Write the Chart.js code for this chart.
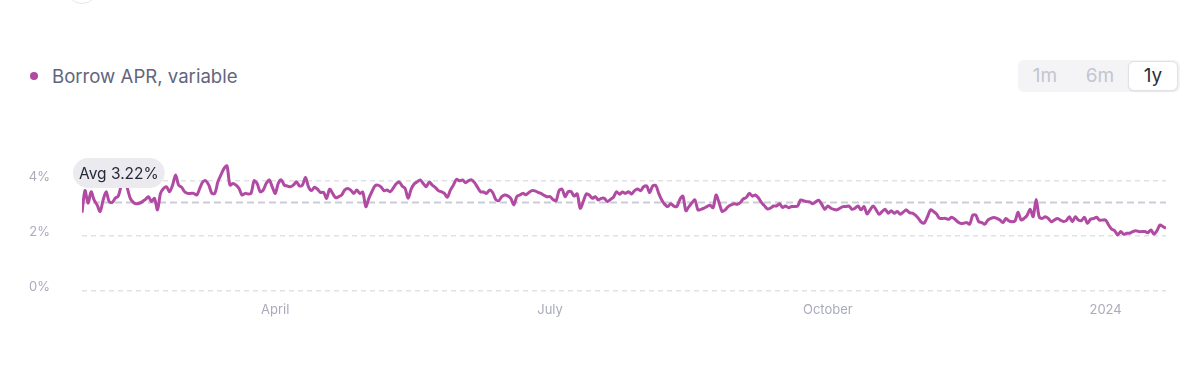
<!DOCTYPE html>
<html>
<head>
<meta charset="utf-8">
<script src="https://cdn.jsdelivr.net/npm/chart.js@4/dist/chart.umd.min.js"></script>
<style>
    html, body { margin: 0; padding: 0; background: #fff; }
    body { width: 1200px; height: 367px; position: relative; overflow: hidden; font-family: 'Inter', 'Noto Sans', sans-serif; }
    #chart { position: absolute; left: 0; top: 0; }
    .topShape { position: absolute; left: 66px; top: -28px; width: 30px; height: 30px; border-radius: 50%; border: 1px solid #e6e6ec; }
    .legend { position: absolute; left: 30px; top: 64px; display: flex; align-items: center; height: 24px; }
    .legend .dot { width: 8px; height: 8px; border-radius: 50%; background: #b14aa2; margin-right: 14px; }
    .legend .label { font-size: 18.6px; color: #62667d; }
    .range { position: absolute; left: 1018px; top: 60px; width: 162px; height: 32px; background: #f4f4f7; border-radius: 6px; }
    .range span { position: absolute; top: 0; height: 32px; line-height: 32px; font-size: 19px; color: #c3c5cf; text-align: center; }
    .range .active { top: 1px; height: 28px; line-height: 28px; background: #fff; border: 1px solid #e0e0e7; border-radius: 6px; box-shadow: 0 1px 2px rgba(0,0,0,0.06); color: #2b2d3c; }
</style>
</head>
<body>
<div class="topShape"></div>
<div class="legend"><div class="dot"></div><div class="label">Borrow APR, variable</div></div>
<div class="range">
    <span style="left: 11px; width: 32px;">1m</span>
    <span style="left: 66px; width: 32px;">6m</span>
    <span class="active" style="left: 110px; width: 48px;">1y</span>
</div>
<canvas id="chart" width="1200" height="367"></canvas>
<script>
/* ── Data ───────────────────────────────────────────────────────────────── */

// One value per day, starting at startDate
const startDate = '2023-01-27';

const borrowApr = [
    2.85, 3.65, 3.19, 3.61, 3.31, 3.13, 2.89, 3.31, 3.61, 3.25,
    3.22, 3.37, 3.45, 3.85, 4.20, 3.75, 3.37, 3.22, 3.17, 3.19,
    3.25, 3.33, 3.43, 3.25, 3.37, 2.95, 3.55, 3.73, 3.79, 3.61,
    3.85, 4.22, 3.85, 3.77, 3.61, 3.55, 3.55, 3.55, 3.49, 3.73,
    3.97, 4.01, 3.85, 3.55, 3.55, 3.97, 4.22, 4.45, 4.55, 3.85,
    3.91, 3.85, 3.73, 3.49, 3.55, 3.53, 3.55, 4.01, 3.91, 3.61,
    3.67, 3.91, 4.04, 3.79, 3.55, 3.91, 4.04, 3.85, 3.82, 3.79,
    3.85, 3.97,
    3.82, 3.85, 4.13, 3.79, 3.65, 3.77, 3.70, 3.58, 3.59, 3.37,
    3.70, 3.55, 3.39, 3.43, 3.49, 3.67, 3.73, 3.67, 3.55, 3.67,
    3.55, 3.59, 3.07, 3.37, 3.61, 3.82, 3.85, 3.79, 3.65, 3.67,
    3.61, 3.73, 3.89, 3.97, 3.82, 3.73, 3.37, 3.70, 3.89, 3.97,
    4.04, 3.91, 3.79, 3.96, 3.85, 3.77, 3.65, 3.61, 3.55, 3.41,
    3.67, 3.85, 4.06, 4.01, 4.04, 3.94, 4.01, 4.04, 3.94, 3.77,
    3.61, 3.60, 3.55, 3.67, 3.58, 3.33, 3.28, 3.43, 3.49, 3.46,
    3.37, 3.13,
    3.43, 3.49, 3.55, 3.50, 3.58, 3.65, 3.64, 3.59, 3.55, 3.48,
    3.43, 3.43, 3.33, 3.28, 3.65, 3.70, 3.43, 3.61, 3.61, 3.45,
    3.53, 3.01, 3.25, 3.53, 3.49, 3.37, 3.43, 3.31, 3.37, 3.37,
    3.25, 3.33, 3.41, 3.61, 3.52, 3.60, 3.55, 3.61, 3.53, 3.65,
    3.71, 3.65, 3.79, 3.82, 3.58, 3.82, 3.84, 3.55, 3.31, 3.15,
    3.07, 3.17, 3.09, 3.07, 3.33, 3.45, 2.92, 3.07, 3.21, 3.31,
    2.95, 2.97, 3.01, 3.07, 3.12, 3.03, 3.49, 3.21, 2.89, 2.95,
    3.07, 3.13,
    3.17, 3.15, 3.21, 3.35, 3.40, 3.55, 3.45, 3.49, 3.39, 3.22,
    3.10, 2.99, 3.01, 3.09, 3.09, 3.17, 3.04, 3.09, 3.03, 3.07,
    3.07, 3.09, 3.31, 3.28, 3.25, 3.24, 3.17, 3.24, 3.30, 3.15,
    2.97, 3.09, 3.01, 2.97, 2.95, 3.01, 3.07, 3.07, 3.09, 2.97,
    3.01, 3.09, 2.95, 3.07, 2.80, 2.95, 3.09, 2.95, 2.79, 2.89,
    2.97, 2.83, 2.92, 2.83, 2.89, 2.79, 2.87, 2.95, 2.85, 2.83,
    2.76, 2.64, 2.50, 2.48, 2.70, 2.95, 2.89, 2.80, 2.64, 2.64,
    2.64,
    2.61, 2.68, 2.62, 2.52, 2.46, 2.46, 2.49, 2.43, 2.76, 2.76,
    2.52, 2.49, 2.43, 2.58, 2.64, 2.67, 2.64, 2.58, 2.49, 2.64,
    2.55, 2.52, 2.55, 2.86, 2.58, 2.64, 2.75, 2.97, 2.70, 3.33,
    2.70, 2.64, 2.70, 2.64, 2.52, 2.58, 2.64, 2.58, 2.53, 2.56,
    2.70, 2.52, 2.70, 2.58, 2.56, 2.68, 2.46, 2.61, 2.63, 2.68,
    2.58, 2.58, 2.58, 2.40, 2.25, 2.19, 2.04, 2.16, 2.06, 2.10,
    2.10, 2.16, 2.19, 2.16, 2.16, 2.16, 2.12, 2.22, 2.07, 2.19,
    2.40, 2.34, 2.28,
];

const avgApr = 3.22;

const xTickDates  = ['2023-04-01', '2023-07-01', '2023-10-01', '2024-01-01'];
const xTickLabels = ['April', 'July', 'October', '2024'];
const yTickValues = [0, 2, 4];

/* ── Helpers ────────────────────────────────────────────────────────────── */

const COLORS = {
    line:      '#b14aa2',
    grid:      '#e0e1e7',
    avgLine:   '#cbccd7',
    tickText:  '#a9abba',
    pillBg:    '#ebebef',
    pillText:  '#262838',
};

const FONT = "Inter, 'Noto Sans', sans-serif";
const DAY_MS = 24 * 3600 * 1000;
const dayOffset = d => Math.round((Date.parse(d) - Date.parse(startDate)) / DAY_MS);

const xTickDays = xTickDates.map(dayOffset);
const points = borrowApr.map((v, i) => ({ x: i, y: v }));

/* ── Avg line + pill plugin ─────────────────────────────────────────────── */

const avgPlugin = {
    id: 'avgLine',
    beforeDatasetsDraw(chart) {
        const { ctx, chartArea, scales } = chart;
        const y = scales.y.getPixelForValue(avgApr);
        ctx.save();
        ctx.strokeStyle = COLORS.avgLine;
        ctx.lineWidth = 2;
        ctx.setLineDash([7, 4]);
        ctx.beginPath();
        ctx.moveTo(chartArea.left, y);
        ctx.lineTo(chartArea.right, y);
        ctx.stroke();
        ctx.restore();
    },
    afterDatasetsDraw(chart) {
        const { ctx, chartArea } = chart;
        const text = `Avg ${avgApr.toFixed(2)}%`;
        ctx.save();
        ctx.font = `15.5px ${FONT}`;
        const w = ctx.measureText(text).width + 12;
        const h = 30;
        const x = chartArea.left - 9;
        const y = chartArea.top + 4.5;
        ctx.fillStyle = COLORS.pillBg;
        ctx.beginPath();
        ctx.roundRect(x, y, w, h, 15);
        ctx.fill();
        ctx.fillStyle = COLORS.pillText;
        ctx.textBaseline = 'middle';
        ctx.fillText(text, x + 6, y + h / 2 + 1);
        ctx.restore();
    },
};

/* ── Chart ──────────────────────────────────────────────────────────────── */

new Chart(document.getElementById('chart').getContext('2d'), {
    type: 'line',
    data: {
        datasets: [{
            label: 'Borrow APR, variable',
            data: points,
            borderColor: COLORS.line,
            borderWidth: 3,
            pointRadius: 0,
            tension: 0.3,
            fill: false,
        }],
    },
    options: {
        responsive: false,
        animation: false,
        devicePixelRatio: 1,
        layout: { padding: { top: 153.5, right: 34, bottom: 36, left: 0 } },
        scales: {
            x: {
                type: 'linear',
                min: 0,
                max: borrowApr.length - 1,
                grid: { display: false, drawTicks: false },
                border: { display: false },
                afterBuildTicks: axis => { axis.ticks = xTickDays.map(v => ({ value: v })); },
                afterFit: axis => { axis.height = 40; },
                ticks: {
                    autoSkip: false,
                    maxRotation: 0,
                    padding: 11,
                    color: COLORS.tickText,
                    font: { family: FONT, size: 13 },
                    callback: (v) => xTickLabels[xTickDays.indexOf(v)] ?? '',
                },
            },
            y: {
                min: 0,
                max: 5,
                afterBuildTicks: axis => { axis.ticks = yTickValues.map(v => ({ value: v })); },
                afterFit: axis => { axis.width = 82; },
                border: { display: false, dash: [5, 4] },
                grid: {
                    color: COLORS.grid,
                    lineWidth: 1.5,
                    drawTicks: false,
                },
                ticks: {
                    padding: 32,
                    labelOffset: -4,
                    color: COLORS.tickText,
                    font: { family: FONT, size: 13 },
                    callback: v => `${v}%`,
                },
            },
        },
        plugins: {
            legend: { display: false },
            tooltip: { enabled: false },
        },
    },
    plugins: [avgPlugin],
});
</script>
</body>
</html>
